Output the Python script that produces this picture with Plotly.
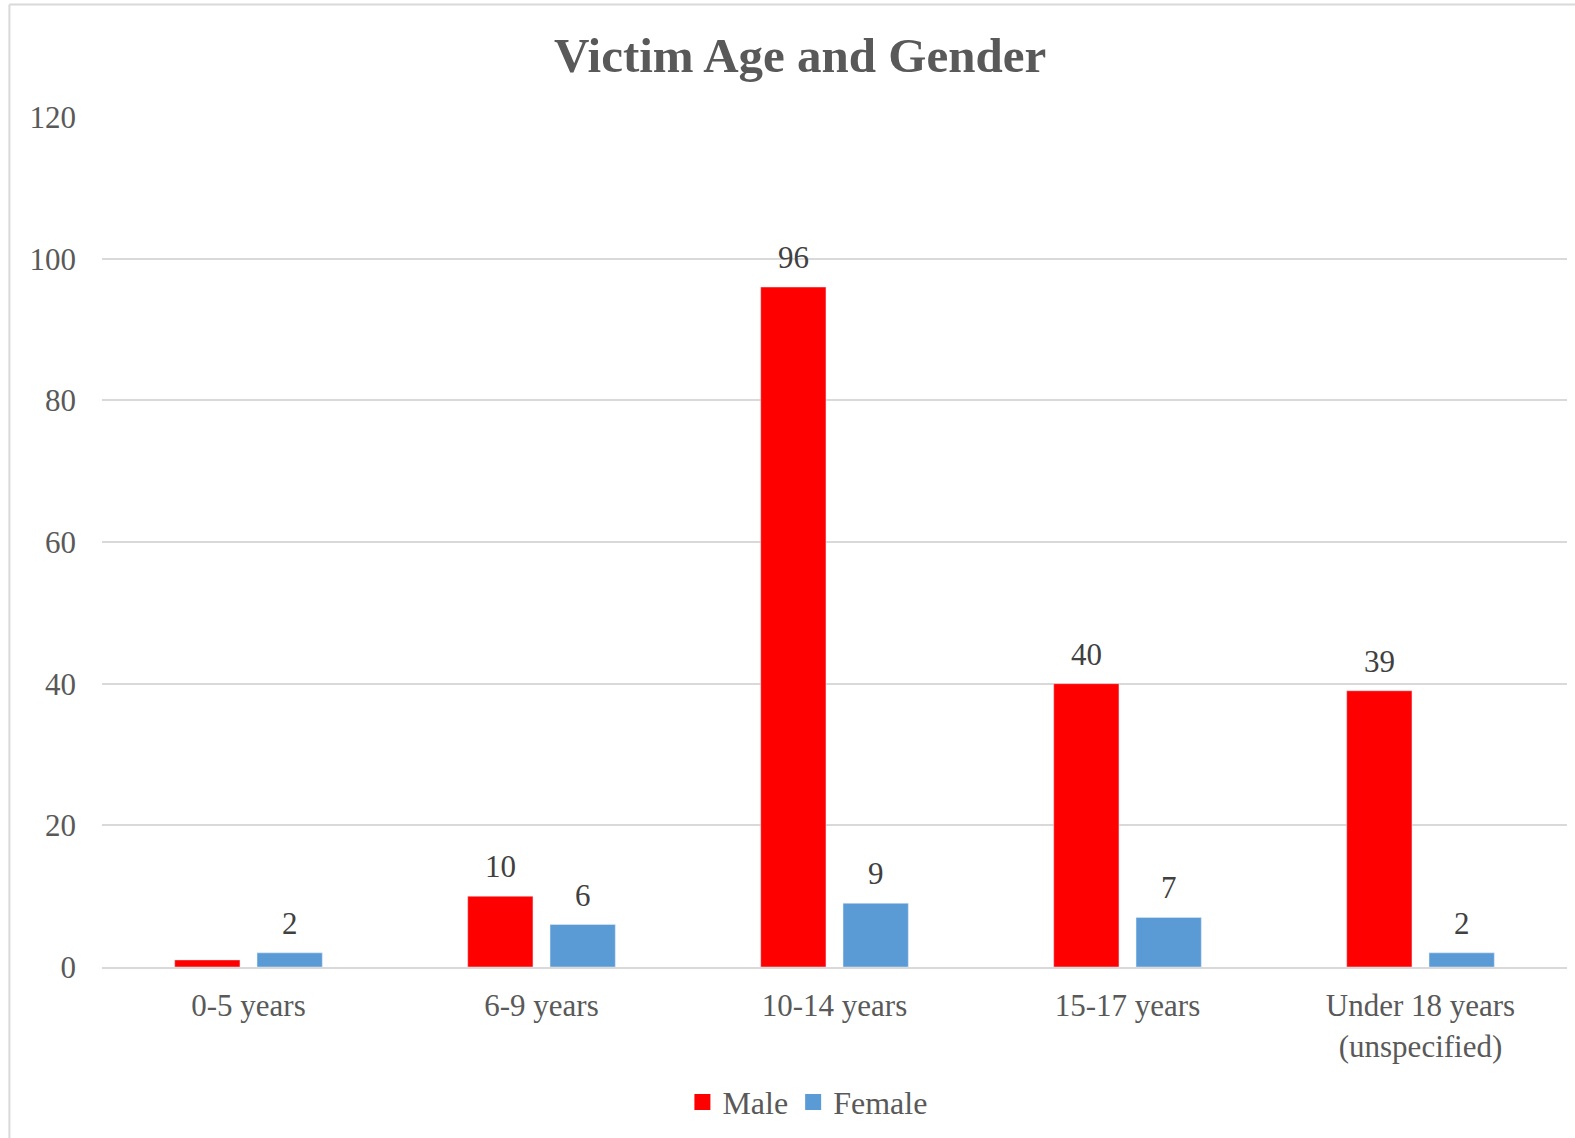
import plotly.graph_objects as go

categories = ["0-5 years", "6-9 years", "10-14 years", "15-17 years", "Under 18 years<br>(unspecified)"]
male = [1, 10, 96, 40, 39]
female = [2, 6, 9, 7, 2]
male_labels = ["", "10", "96", "40", "39"]
female_labels = [str(v) for v in female]
y_ticks = [0, 20, 40, 60, 80, 100, 120]

FONT = "Liberation Serif, Times New Roman, serif"
GRAY = "#595959"
LABEL = "#404040"
RED = "#FF0000"
BLUE = "#5B9BD5"
BARGAP = 0.438
BARGROUPGAP = 0.207

fig = go.Figure()
fig.add_trace(go.Bar(name="Male", x=categories, y=male, marker_color=RED, showlegend=False))
fig.add_trace(go.Bar(name="Female", x=categories, y=female, marker_color=BLUE, showlegend=False))
# legend entries with square symbols
for nm, col in [("Male", RED), ("Female", BLUE)]:
    fig.add_trace(go.Scatter(name=nm, x=[None], y=[None], mode="markers",
                             marker=dict(symbol="square", size=16, color=col)))

# data labels above bars (group offset derived from bar gap)
off = (1 - BARGAP) / 4
for series, labels, sign in [(male, male_labels, -1), (female, female_labels, 1)]:
    for i, (v, t) in enumerate(zip(series, labels)):
        if t:
            fig.add_annotation(x=i + sign * off, y=v, text=t, showarrow=False,
                               xref="x", yref="y", yanchor="bottom", yshift=10,
                               font=dict(family=FONT, size=31, color=LABEL))

fig.update_layout(
    width=1575, height=1138,
    margin=dict(l=102, r=8, t=117, b=171),
    paper_bgcolor="white", plot_bgcolor="white",
    barmode="group", bargap=BARGAP, bargroupgap=BARGROUPGAP,
    font=dict(family=FONT, color=GRAY, size=31),
    title=dict(text="<b>Victim Age and Gender</b>", x=0.508, xanchor="center",
               y=0.952, yanchor="middle",
               font=dict(family=FONT, size=49, color=GRAY)),
    legend=dict(orientation="h", x=0.4815, xanchor="center", y=-0.159, yanchor="middle",
                font=dict(family=FONT, size=32, color=GRAY), itemwidth=30,
                traceorder="normal"),
    showlegend=True,
)
fig.update_yaxes(range=[0, 120], tickvals=y_ticks, showgrid=True, gridcolor="#d9d9d9",
                 gridwidth=1.5, zeroline=False, showline=False, ticks="",
                 tickfont=dict(family=FONT, size=31, color=GRAY), ticklabelstandoff=25)
fig.update_xaxes(showline=True, linecolor="#d9d9d9", linewidth=2, ticks="",
                 tickfont=dict(family=FONT, size=31, color=GRAY), ticklabelstandoff=10)

# outer chart border (left and top edges visible)
fig.add_shape(type="line", xref="paper", yref="paper", x0=-0.0632, x1=-0.0632, y0=1.1324, y1=-0.25,
              line=dict(color="#d9d9d9", width=2))
fig.add_shape(type="line", xref="paper", yref="paper", x0=-0.0632, x1=1.02, y0=1.1324, y1=1.1324,
              line=dict(color="#d9d9d9", width=2))

post = ("document.documentElement.style.overflow='hidden';"
        "document.body.style.margin='0';document.body.style.overflow='hidden';")
fig.write_html("out.html", config={"displayModeBar": False}, post_script=post)
